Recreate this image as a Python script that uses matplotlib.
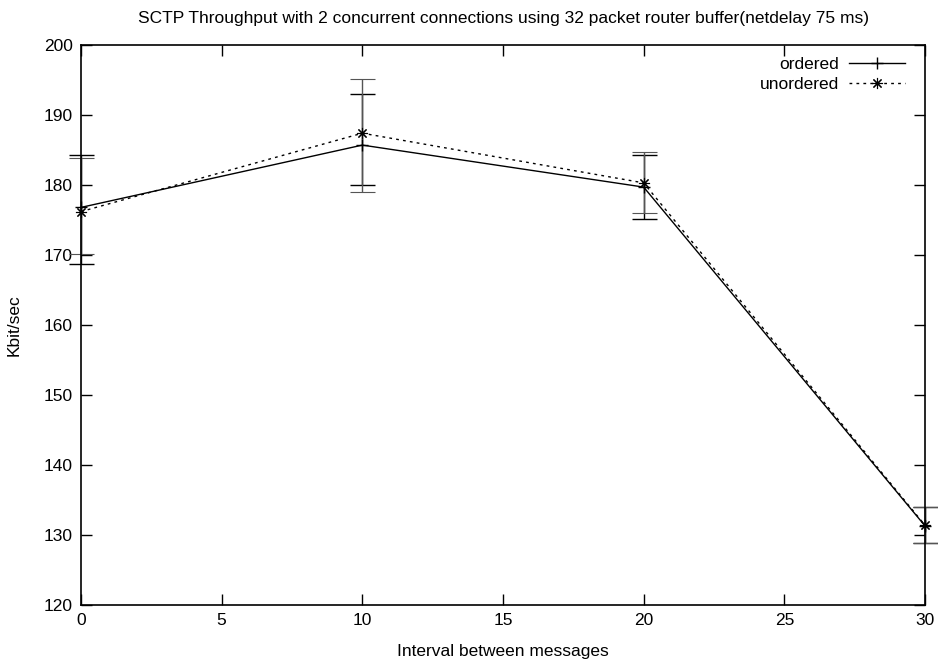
import numpy as np
import matplotlib
matplotlib.use("Agg")
import matplotlib.pyplot as plt
from matplotlib.lines import Line2D

plt.rcParams['font.family'] = ['Liberation Sans', 'DejaVu Sans']

# donnees
intervals = [0, 10, 20, 30]
ordered = [176.8, 185.7, 179.7, 131.3]
ordered_low = [168.7, 180.0, 175.1, 128.8]
ordered_high = [184.3, 193.0, 184.3, 134.0]
unordered = [176.2, 187.4, 180.3, 131.4]
unordered_low = [170.2, 179.0, 176.0, 128.8]
unordered_high = [183.9, 195.2, 184.7, 134.0]

fig = plt.figure(figsize=(9.38, 6.68), dpi=100)
ax = fig.add_axes([81/938, 63/668, 844/938, 560/668])

star = (8, 2, 0)
dash = (0, (2, 3))

o = np.array(ordered)
u = np.array(unordered)
c1 = ax.errorbar(intervals, o, yerr=[o - np.array(ordered_low), np.array(ordered_high) - o],
                 color='black', lw=1, ecolor='black', elinewidth=1, capsize=9, capthick=1,
                 marker='+', ms=9, mew=1)
c2 = ax.errorbar(intervals, u, yerr=[u - np.array(unordered_low), np.array(unordered_high) - u],
                 color='black', lw=1, ls=dash, ecolor='#555555', elinewidth=1, capsize=9,
                 capthick=1, marker=star, ms=8, mew=0.8)
for c in (c1, c2):
    for art in c.get_children():
        art.set_clip_on(False)

ax.set_xlim(0, 30)
ax.set_ylim(120, 200)
ax.set_xticks(range(0, 31, 5))
ax.set_yticks(range(120, 201, 10))
ax.tick_params(direction='in', length=8, width=1, top=True, right=True, labelsize=12.5, pad=6)
for s in ax.spines.values():
    s.set_linewidth(1.2)

ax.set_title("SCTP Throughput with 2 concurrent connections using 32 packet router buffer(netdelay 75 ms)",
             fontsize=12.5, pad=16)
ax.set_xlabel("Interval between messages", fontsize=12.5, labelpad=11)
ax.set_ylabel("Kbit/sec", fontsize=12.5, labelpad=16)

handles = [Line2D([], [], color='black', lw=1, marker='+', ms=9, mew=1),
           Line2D([], [], color='black', lw=1, ls=dash, marker=star, ms=8, mew=0.8)]
leg = ax.legend(handles, ['ordered', 'unordered'], loc='upper right', frameon=False,
                bbox_to_anchor=(0.98, 0.985), markerfirst=False, fontsize=12.5,
                handlelength=3.2, borderaxespad=0.0, labelspacing=0.3, handletextpad=0.6,
                borderpad=0.2)
for t in leg.get_texts():
    t.set_ha('right')

fig.savefig("out.png", dpi=100)
